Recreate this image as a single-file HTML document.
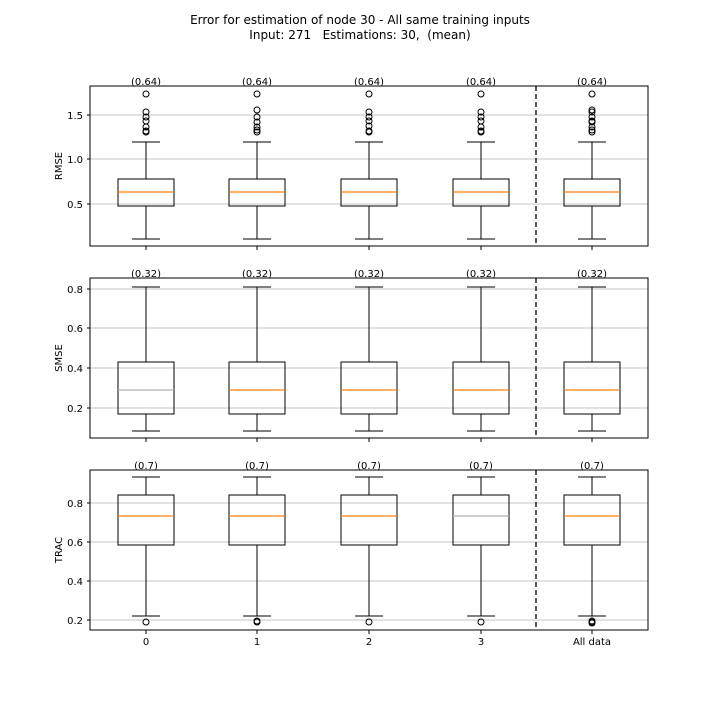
<!DOCTYPE html>
<html><head><meta charset="utf-8"><style>
html,body{margin:0;padding:0;background:#fff;}
svg{display:block;font-family:"DejaVu Sans","Liberation Sans",sans-serif;}
</style></head><body>
<svg id="s" width="720" height="720" viewBox="0 0 720 720" xmlns="http://www.w3.org/2000/svg">
<rect width="720" height="720" fill="#fff"/>
<g id="shapes"></g>
<g font-size="12" text-anchor="middle" fill="#000">
<text x="360" y="24">Error for estimation of node 30 - All same training inputs</text>
<text x="360" y="39" style="white-space:pre">Input: 271   Estimations: 30,  (mean)</text>
</g>
<g font-size="10" fill="#000" text-anchor="end">
<text x="83" y="119">1.5</text><text x="83" y="163">1.0</text><text x="83" y="208">0.5</text>
<text x="83" y="293">0.8</text><text x="83" y="332">0.6</text><text x="83" y="372">0.4</text><text x="83" y="412">0.2</text>
<text x="83" y="507">0.8</text><text x="83" y="546">0.6</text><text x="83" y="585">0.4</text><text x="83" y="624">0.2</text>
</g>
<g font-size="10" fill="#000" text-anchor="middle">
<text transform="translate(62,166) rotate(-90)">RMSE</text>
<text transform="translate(62,358) rotate(-90)">SMSE</text>
<text transform="translate(62,550) rotate(-90)">TRAC</text>
<text x="146" y="645">0</text><text x="257" y="645">1</text><text x="369" y="645">2</text><text x="481" y="645">3</text><text x="592" y="645">All data</text>
<text x="146" y="85">(0.64)</text><text x="257" y="85">(0.64)</text><text x="369" y="85">(0.64)</text><text x="481" y="85">(0.64)</text><text x="592" y="85">(0.64)</text>
<text x="146" y="277">(0.32)</text><text x="257" y="277">(0.32)</text><text x="369" y="277">(0.32)</text><text x="481" y="277">(0.32)</text><text x="592" y="277">(0.32)</text>
<text x="146" y="469">(0.7)</text><text x="257" y="469">(0.7)</text><text x="369" y="469">(0.7)</text><text x="481" y="469">(0.7)</text><text x="592" y="469">(0.7)</text>
</g>
</svg>
<script>
var g=document.getElementById('shapes'),h='';
function L(x1,y1,x2,y2,c,w,d){h+='<line x1="'+x1+'" y1="'+y1+'" x2="'+x2+'" y2="'+y2+'" stroke="'+(c||'#000')+'" stroke-width="'+(w||1)+'"'+(d?' stroke-dasharray="'+d+'"':'')+'/>';}
var xs=[146,257,369,481,592];
var axes=[
 {t:86,b:246,grid:[115,159,204],q3:179,q1:206,med:192,hi:142,lo:239,out:[[94,112,117,121,127,131,132],[94,110,117,122,127,130,132],[94,112,117,121,126,131,132],[94,112,117,121,127,131,132],[94,110,112,117,121,122,127,130,132]],mc:['#ff7f0e','#ff7f0e','#ff7f0e','#ff7f0e','#ff7f0e']},
 {t:278,b:438,grid:[289,328,368,408],q3:362,q1:414,med:390,hi:287,lo:431,out:[[],[],[],[],[]],mc:['#b0b0b0','#ff7f0e','#ff7f0e','#ff7f0e','#ff7f0e']},
 {t:470,b:630,grid:[503,542,581,620],q3:495,q1:545,med:516,hi:477,lo:616,out:[[622],[621,622],[622],[622],[621,622,623]],mc:['#ff7f0e','#ff7f0e','#ff7f0e','#b0b0b0','#ff7f0e']}
];
axes.forEach(function(a){
 a.grid.forEach(function(y){L(90,y,648,y,'#b0b0b0',0.8);L(87,y,90,y);});
 L(536,a.t,536,a.b,'#000',1.3,'5,3');
 xs.forEach(function(x,i){
  L(x,a.b,x,a.b+4);
  L(x,a.q3,x,a.hi);L(x,a.q1,x,a.lo);
  L(x-14,a.hi,x+14,a.hi);L(x-14,a.lo,x+14,a.lo);
  h+='<rect x="'+(x-28)+'" y="'+a.q3+'" width="56" height="'+(a.q1-a.q3)+'" fill="none" stroke="#000"/>';
  L(x-28,a.med,x+28,a.med,a.mc[i],1.2);
  a.out[i].forEach(function(y){h+='<circle cx="'+x+'" cy="'+y+'" r="3" fill="none" stroke="#000"/>';});
 });
 h+='<rect x="90" y="'+a.t+'" width="558" height="'+(a.b-a.t)+'" fill="none" stroke="#000"/>';
});
g.innerHTML=h;
</script>
</body></html>
